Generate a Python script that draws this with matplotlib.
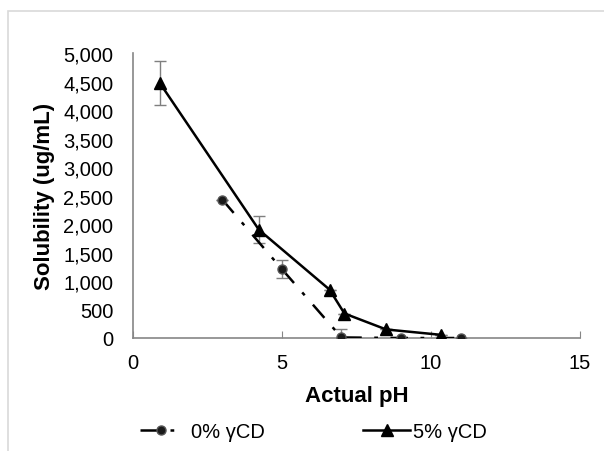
import matplotlib
matplotlib.use("Agg")
import matplotlib.pyplot as plt
from matplotlib.ticker import FuncFormatter, MultipleLocator
from matplotlib.patches import Rectangle

plt.rcParams['font.family'] = ['Liberation Sans', 'DejaVu Sans']

# 0% gamma-cyclodextrin
ph_0 = [3.0, 5.0, 7.0, 9.0, 11.0]
sol_0 = [2430, 1210, 10, 0, 0]
err_0 = [0, 165, 150, 0, 0]

# 5% gamma-cyclodextrin
ph_5 = [0.9, 4.23, 6.6, 7.1, 8.5, 10.35]
sol_5 = [4480, 1900, 850, 430, 150, 55]
err_5 = [390, 240, 0, 0, 0, 0]

fig = plt.figure(figsize=(6.04, 4.52), dpi=100)
fig.patches.append(Rectangle((8 / 604, -0.1), 1.2, 1 - 12 / 452 + 0.1,
                             transform=fig.transFigure, fill=False,
                             edgecolor='#d9d9d9', linewidth=1.2))
ax = fig.add_axes([0.220, 0.250, 0.740, 0.630])

ax.errorbar(ph_0, sol_0, yerr=err_0, fmt='none', ecolor='#7f7f7f',
            elinewidth=1, capsize=4, capthick=1, zorder=2)
ax.errorbar(ph_5, sol_5, yerr=err_5, fmt='none', ecolor='#7f7f7f',
            elinewidth=1, capsize=4, capthick=1, zorder=2)

l0, = ax.plot(ph_0, sol_0, color='black', linewidth=1.8,
              dashes=(7, 5, 1.5, 5), marker='o', markersize=6.5,
              markerfacecolor='#1a1a1a', markeredgecolor='#555555',
              label='0% γCD', zorder=3)
l5, = ax.plot(ph_5, sol_5, color='black', linewidth=1.8, marker='^',
              markersize=8, markerfacecolor='black', markeredgecolor='black',
              label='5% γCD', zorder=4)

ax.set_xlim(0, 15)
ax.set_ylim(0, 5000)
ax.xaxis.set_major_locator(MultipleLocator(5))
ax.yaxis.set_major_locator(MultipleLocator(500))
ax.yaxis.set_major_formatter(FuncFormatter(lambda v, p: f"{int(v):,}"))

for side in ['top', 'right']:
    ax.spines[side].set_visible(False)
ax.spines['bottom'].set_color('#868686')
ax.spines['left'].set_color('#868686')
ax.spines['bottom'].set_linewidth(1.2)
ax.spines['left'].set_linewidth(1.2)

ax.tick_params(axis='x', direction='in', length=5, color='#868686',
               labelsize=14.5, pad=11)
ax.tick_params(axis='y', length=0, labelsize=14.5, pad=14)

ax.set_xlabel('Actual pH', fontsize=16, fontweight='bold', labelpad=9)
ax.set_ylabel('Solubility (ug/mL)', fontsize=16, fontweight='bold', labelpad=6)

leg_y = 0.044
fig.legend(handles=[l0], loc='center left', bbox_to_anchor=(140 / 604, leg_y),
           frameon=False, fontsize=14.5, handlelength=2.1, handletextpad=0.45,
           borderpad=0, borderaxespad=0)
fig.legend(handles=[l5], loc='center left', bbox_to_anchor=(363 / 604, leg_y),
           frameon=False, fontsize=14.5, handlelength=2.35, handletextpad=0.15,
           borderpad=0, borderaxespad=0)

fig.savefig('out.png', dpi=100)
